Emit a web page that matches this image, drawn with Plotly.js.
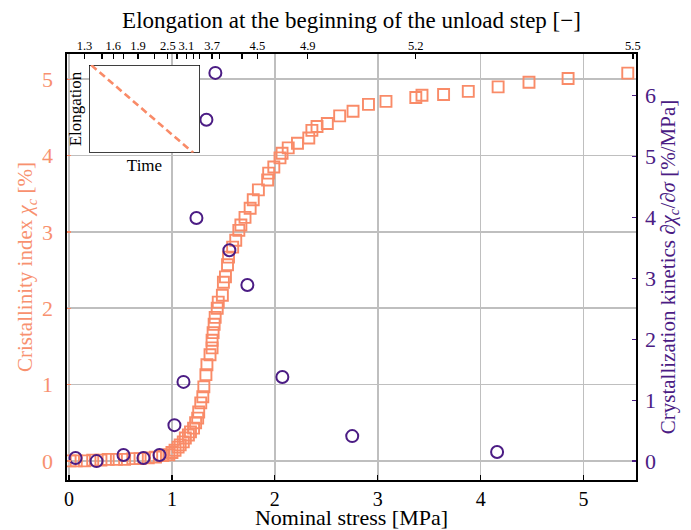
<!DOCTYPE html>
<html>
<head>
<meta charset="utf-8">
<script src="https://cdn.plot.ly/plotly-3.0.1.min.js"></script>
<style>html,body{margin:0;padding:0;background:#fff;} #chart{width:691px;height:530px;}</style>
</head>
<body>
<div id="chart"></div>
<script>
// Crystallinity index (squares) vs nominal stress
const stressSq = [0.01,0.07,0.15,0.23,0.31,0.38,0.46,0.54,0.62,0.69,0.77,0.84,0.91,0.97,1.00,1.03,1.06,1.08,1.11,1.13,1.16,1.18,1.21,1.23,1.25,1.26,1.28,1.30,1.31,1.33,1.34,1.37,1.39,1.39,1.40,1.41,1.42,1.44,1.45,1.49,1.50,1.52,1.54,1.55,1.59,1.62,1.65,1.67,1.71,1.76,1.79,1.84,1.93,1.94,1.99,2.05,2.07,2.13,2.22,2.33,2.36,2.41,2.51,2.63,2.76,2.91,3.08,3.37,3.43,3.64,3.88,4.17,4.47,4.85,5.43];
const crystIdx = [0.00,0.00,0.00,0.01,0.01,0.02,0.02,0.02,0.03,0.03,0.04,0.05,0.07,0.08,0.11,0.14,0.18,0.21,0.25,0.30,0.34,0.38,0.43,0.50,0.56,0.64,0.76,0.84,0.97,1.13,1.26,1.39,1.48,1.58,1.68,1.79,1.88,2.00,2.08,2.17,2.34,2.41,2.57,2.67,2.80,2.89,3.02,3.09,3.19,3.31,3.42,3.55,3.68,3.77,3.85,3.97,4.03,4.10,4.16,4.23,4.33,4.38,4.42,4.52,4.58,4.67,4.71,4.76,4.79,4.80,4.84,4.90,4.96,5.01,5.08];
// Crystallization kinetics (circles)
const stressCirc = [0.063,0.267,0.529,0.723,0.879,1.024,1.112,1.238,1.335,1.422,1.558,1.733,2.073,2.752,4.160];
const kinetics = [0.05,0.00,0.10,0.05,0.10,0.59,1.30,3.99,5.60,6.37,3.46,2.89,1.38,0.41,0.15];
// Axis ticks
const bottomTicks = [0,1,2,3,4,5];
const leftTicks = [0,1,2,3,4,5];
const rightTicks = [0,1,2,3,4,5,6];
const topTickVals = [0.15,0.32,0.43,0.53,0.67,0.83,0.96,1.05,1.14,1.21,1.27,1.39,1.46,1.68,1.83,2.32,3.37,5.48];
const topTickText = ['1.3','','1.6','','1.9','','2.5','','3.1','','','3.7','','','4.5','4.9','5.2','5.5'];
// Inset schematic
const insetTime = [0.02,0.94];
const insetElong = [1.0,0.0];

const salmon = '#F98B68';
const salmonText = '#F8916F';
const purple = '#4B1C84';
const grid = '#bfbfbf';
const fontFam = 'Liberation Serif, Times New Roman, serif';

const traces = [
  {x: stressSq, y: crystIdx, xaxis:'x', yaxis:'y', type:'scatter', mode:'markers',
   marker:{symbol:'square-open', size:11, color:salmon, line:{width:1.9, color:salmon}}, hoverinfo:'x+y'},
  {x: stressCirc, y: kinetics, xaxis:'x', yaxis:'y2', type:'scatter', mode:'markers',
   marker:{symbol:'circle-open', size:12, color:purple, line:{width:2, color:purple}}, hoverinfo:'x+y'},
  {x: [], y: [], xaxis:'x2', yaxis:'y', type:'scatter', mode:'markers', hoverinfo:'skip'},
  {x: insetTime, y: insetElong, xaxis:'x3', yaxis:'y3', type:'scatter', mode:'lines',
   line:{color:salmon, width:2.6, dash:'7px,4px'}, hoverinfo:'skip'}
];

const layout = {
  width: 691, height: 530,
  margin: {l:67, r:55, t:54, b:50, pad:0},
  paper_bgcolor:'#fff', plot_bgcolor:'#fff',
  font:{family:fontFam, size:22, color:'#000'},
  showlegend:false,
  xaxis:{range:[-0.02,5.51], tickvals:bottomTicks, ticks:'inside', ticklen:5, tickwidth:1.3, tickcolor:'#000',
    showline:true, linecolor:'#000', linewidth:1.6, mirror:true, showgrid:true, gridcolor:grid, gridwidth:1.6,
    zeroline:false, tickfont:{size:20, color:'#000'}, ticklabelstandoff:0, automargin:false, anchor:'y',
    title:{text:'Nominal stress [MPa]', font:{size:22, color:'#000'}, standoff:9}},
  xaxis2:{overlaying:'x', side:'top', anchor:'y', range:[-0.02,5.51], tickvals:topTickVals, ticktext:topTickText,
    ticks:'inside', ticklen:5, tickwidth:1.3, tickcolor:'#000', tickfont:{size:12.5, color:'#000'},
    showgrid:false, zeroline:false, showline:false, automargin:false, ticklabelstandoff:1,
    title:{text:'Elongation at the beginning of the unload step [\u2212]', font:{size:23, color:'#000'}, standoff:3}},
  yaxis:{range:[-0.25,5.33], tickvals:leftTicks, ticks:'inside', ticklen:4, tickwidth:1.3, tickcolor:salmon,
    tickfont:{size:22, color:salmonText}, showline:true, linecolor:'#000', linewidth:1.6,
    showgrid:true, gridcolor:grid, gridwidth:1.6, zeroline:false, automargin:false, ticklabelstandoff:8, anchor:'x',
    title:{text:'Cristallinity index <i>\u03c7<sub>c</sub></i> [%]', font:{size:21, color:salmonText}, standoff:3}},
  yaxis2:{overlaying:'y', side:'right', anchor:'x', range:[-0.31,6.68], tickvals:rightTicks, ticks:'inside',
    ticklen:4, tickwidth:1.3, tickcolor:purple, tickfont:{size:22, color:purple}, showline:true, linecolor:'#000',
    linewidth:1.6, showgrid:false, zeroline:false, automargin:false, ticklabelstandoff:3,
    title:{text:'Crystallization kinetics \u2202<i>\u03c7<sub>c</sub></i>/\u2202<i>\u03c3</i> [%/MPa]', font:{size:21, color:purple}, standoff:5}},
  xaxis3:{domain:[0.0387,0.2337], anchor:'y3', range:[0,1], showticklabels:false, ticks:'', showgrid:false,
    zeroline:false, showline:false, automargin:false, fixedrange:true,
    title:{text:'Time', font:{size:17, color:'#000'}, standoff:6}},
  yaxis3:{domain:[0.768,0.974], anchor:'x3', range:[0,1], showticklabels:false, ticks:'', showgrid:false,
    zeroline:false, showline:false, automargin:false, fixedrange:true,
    title:{text:'Elongation', font:{size:17, color:'#000'}, standoff:2}},
  shapes:[{type:'rect', xref:'x3', yref:'y3', x0:0, x1:1, y0:0, y1:1, fillcolor:'#fff',
    line:{color:'#000', width:1.5}, layer:'between'}]
};

Plotly.newPlot('chart', traces, layout, {displayModeBar:false, staticPlot:true});
</script>
</body>
</html>
